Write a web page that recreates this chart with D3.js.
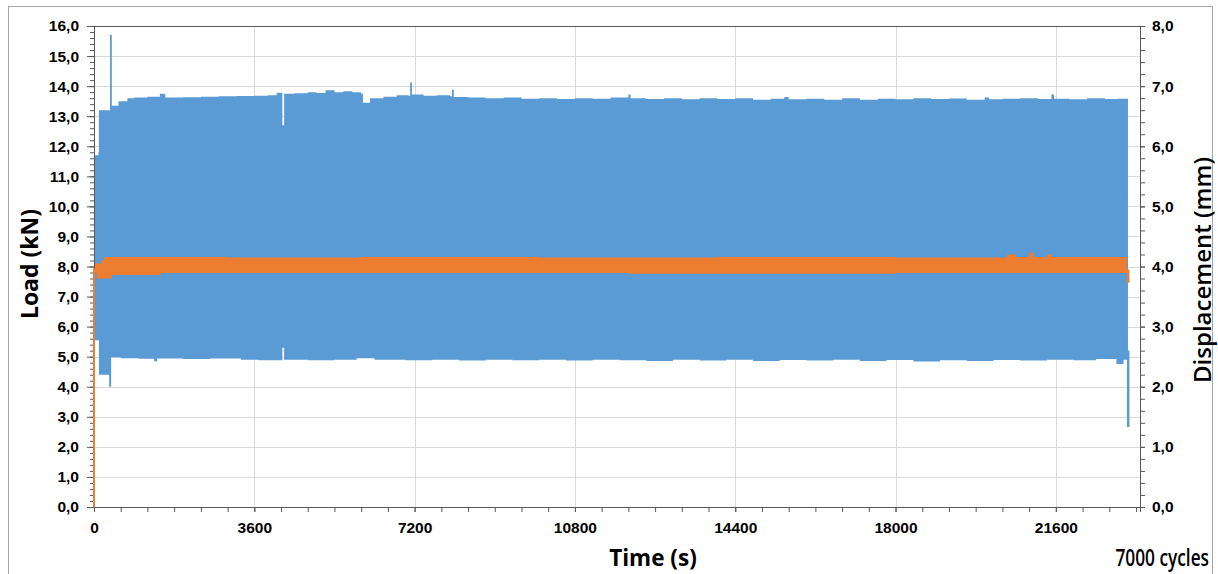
<!DOCTYPE html>
<html>
<head>
<meta charset="utf-8">
<script src="https://cdn.jsdelivr.net/npm/d3@7"></script>
<style>
  body { margin: 0; background: #fff; }
  svg { display: block; }
  .tick text { font-family: "Liberation Sans Narrow", "Arial Narrow", "Liberation Sans", sans-serif; font-weight: bold; font-size: 15.5px; fill: #000; }
</style>
</head>
<body>
<div id="chart"></div>
<script>
// time axis (s)
const timeMax = 23490;
const timeTicks = [0, 3600, 7200, 10800, 14400, 18000, 21600];
const loadTicks = d3.range(0, 17, 1);
const dispTicks = d3.range(0, 9, 1);

// load envelope, blue series: [time (s), kN]
const loadMax = [
  [0, 10.3], [20, 11.7], [100, 11.8], [110, 13.2], [360, 15.7], [400, 13.35], [550, 13.5],
  [750, 13.6], [900, 13.62], [1200, 13.65], [1480, 13.75], [1600, 13.62], [2000, 13.63],
  [2400, 13.65], [2800, 13.66], [3200, 13.67], [3600, 13.68], [3900, 13.7], [4100, 13.78],
  [4230, 12.7], [4270, 13.75], [4500, 13.76], [4800, 13.8], [5000, 13.77], [5200, 13.86],
  [5400, 13.8], [5600, 13.83], [5800, 13.8], [6000, 13.75], [6040, 13.45], [6200, 13.6],
  [6500, 13.65], [6800, 13.7], [7060, 13.68], [7100, 14.12], [7140, 13.72], [7400, 13.68],
  [7700, 13.7], [8000, 13.66], [8040, 13.88], [8080, 13.64], [8400, 13.62], [8800, 13.6],
  [9200, 13.62], [9600, 13.58], [10000, 13.6], [10400, 13.57], [10800, 13.6], [11200, 13.58],
  [11600, 13.62], [12000, 13.72], [12050, 13.6], [12400, 13.57], [12800, 13.6], [13200, 13.56],
  [13600, 13.6], [14000, 13.57], [14400, 13.6], [14800, 13.55], [15200, 13.58], [15500, 13.64],
  [15600, 13.56], [16000, 13.58], [16400, 13.55], [16800, 13.6], [17200, 13.55], [17600, 13.58],
  [18000, 13.56], [18400, 13.6], [18800, 13.57], [19200, 13.59], [19600, 13.55], [20000, 13.62],
  [20100, 13.56], [20400, 13.58], [20800, 13.6], [21200, 13.57], [21500, 13.72], [21560, 13.58],
  [21900, 13.56], [22300, 13.6], [22700, 13.57], [23000, 13.58], [23220, 13.55]
];
const loadMin = [
  [0, 5.55], [110, 4.4], [340, 4.0], [385, 4.98], [600, 4.95], [1000, 4.93], [1350, 4.85],
  [1420, 4.94], [2000, 4.92], [2600, 4.94], [3300, 4.9], [3700, 4.88], [4230, 5.3], [4270, 4.9],
  [4800, 4.88], [5400, 4.9], [5900, 4.95], [6300, 4.9], [7000, 4.88], [7600, 4.9], [8200, 4.87],
  [8800, 4.9], [9400, 4.88], [10000, 4.9], [10600, 4.87], [11200, 4.9], [11800, 4.88],
  [12400, 4.86], [13000, 4.9], [13600, 4.87], [14200, 4.9], [14800, 4.86], [15400, 4.89],
  [16000, 4.87], [16600, 4.9], [17200, 4.86], [17800, 4.89], [18400, 4.84], [19000, 4.88],
  [19600, 4.86], [20200, 4.89], [20800, 4.87], [21400, 4.9], [22000, 4.88], [22500, 4.92],
  [22960, 4.76], [23120, 4.9], [23220, 4.9]
];
const loadTail = [[23225, 5.2], [23225, 2.66]];

// displacement envelope, orange series: [time (s), mm]
const dispMax = [
  [0, 3.97], [100, 4.0], [160, 4.1], [230, 4.16], [1000, 4.16], [3000, 4.15], [6000, 4.16],
  [10000, 4.15], [14000, 4.16], [18000, 4.15], [20500, 4.2], [20700, 4.16], [21000, 4.23],
  [21100, 4.16], [21400, 4.2], [21500, 4.16], [23200, 4.16]
];
const dispMin = [
  [0, 3.89], [60, 3.8], [400, 3.86], [1500, 3.89], [6000, 3.89], [12000, 3.88], [18000, 3.89],
  [23200, 3.89]
];
const dispRamp = [[0, 0], [0, 3.97]];
const dispTail = [[23225, 3.95], [23225, 3.73]];

const width = 1218, height = 574;
const mLeft = 94, mRight = 1140, mTop = 26, mBottom = 507;
const blue = "#5b9bd5", orange = "#ed7d31", grid = "#d9d9d9", axisCol = "#595959";

const svg = d3.select("#chart").append("svg")
  .attr("width", width).attr("height", height);

svg.append("rect")
  .attr("x", 8.5).attr("y", 6.5).attr("width", 1204).attr("height", 600)
  .attr("fill", "none").attr("stroke", "#a6a6a6");

const x = d3.scaleLinear().domain([0, timeMax]).range([mLeft, mRight]);
const yL = d3.scaleLinear().domain([0, 16]).range([mBottom, mTop]);
const yR = d3.scaleLinear().domain([0, 8]).range([mBottom, mTop]);
const fmt = v => d3.format(".1f")(v).replace(".", ",");

// gridlines
svg.append("g").selectAll("line.h")
  .data(loadTicks.slice(1))
  .enter().append("line")
  .attr("x1", mLeft).attr("x2", mRight)
  .attr("y1", d => Math.round(yL(d)) + 0.5).attr("y2", d => Math.round(yL(d)) + 0.5)
  .attr("stroke", grid);
svg.append("g").selectAll("line.v")
  .data(timeTicks.slice(1))
  .enter().append("line")
  .attr("y1", mTop).attr("y2", mBottom)
  .attr("x1", d => Math.round(x(d)) + 0.5).attr("x2", d => Math.round(x(d)) + 0.5)
  .attr("stroke", grid);

// band halves meet in the middle so the fill has no seam
function halfBand(points, mid, yScale, color) {
  const area = d3.area()
    .curve(d3.curveStepAfter)
    .x(d => x(d[0]))
    .y0(yScale(mid))
    .y1(d => yScale(d[1]));
  svg.append("path").datum(points).attr("d", area).attr("fill", color);
}

function segment(points, yScale, color, w) {
  const line = d3.line().x(d => x(d[0])).y(d => yScale(d[1]));
  svg.append("path").datum(points).attr("d", line)
    .attr("fill", "none").attr("stroke", color).attr("stroke-width", w);
}

halfBand(loadMax, 7.9, yL, blue);
halfBand(loadMin, 8.1, yL, blue);
segment(loadTail, yL, blue, 2.5);

halfBand(dispMax, 3.99, yR, orange);
halfBand(dispMin, 4.05, yR, orange);
segment(dispTail, yR, orange, 2.5);

// axes
function styleAxis(g) {
  g.select(".domain").attr("stroke", axisCol);
  g.selectAll(".tick line").attr("stroke", axisCol);
}

svg.append("g").attr("transform", `translate(${mLeft},0)`)
  .call(d3.axisLeft(yL).tickValues(d3.range(0, 16.01, 0.2)).tickSize(4).tickFormat(""))
  .call(styleAxis);
svg.append("g").attr("transform", `translate(${mLeft},0)`)
  .call(d3.axisLeft(yL).tickValues(loadTicks).tickSize(7).tickPadding(8).tickFormat(fmt))
  .call(styleAxis);

svg.append("g").attr("transform", `translate(${mRight},0)`)
  .call(d3.axisRight(yR).tickValues(d3.range(0, 8.01, 0.2)).tickSize(5).tickFormat(""))
  .call(styleAxis);
svg.append("g").attr("transform", `translate(${mRight},0)`)
  .call(d3.axisRight(yR).tickValues(dispTicks).tickSize(5).tickPadding(7).tickFormat(fmt))
  .call(styleAxis);

svg.append("g").attr("transform", `translate(0,${mBottom})`)
  .call(d3.axisBottom(x).tickValues(d3.range(0, timeMax, 600)).tickSize(5).tickFormat(""))
  .call(styleAxis);
svg.append("g").attr("transform", `translate(0,${mBottom})`)
  .call(d3.axisBottom(x).tickValues(timeTicks).tickSize(5).tickPadding(10).tickFormat(d3.format("d")))
  .call(styleAxis);

svg.append("line")
  .attr("x1", mLeft).attr("x2", mRight).attr("y1", mTop + 0.5).attr("y2", mTop + 0.5)
  .attr("stroke", axisCol);

segment(dispRamp, yR, orange, 2);

// titles
const titleFont = "'Open Sans', 'Noto Sans', sans-serif";
svg.append("text")
  .attr("transform", "translate(38,264) rotate(-90)")
  .attr("text-anchor", "middle")
  .style("font-family", titleFont).style("font-weight", 700).style("font-size", "23px")
  .text("Load (kN)");
svg.append("text")
  .attr("transform", "translate(1211,270) rotate(-90)")
  .attr("text-anchor", "middle")
  .style("font-family", titleFont).style("font-weight", 600).style("font-size", "24px")
  .text("Displacement (mm)");
svg.append("text")
  .attr("x", 653).attr("y", 566)
  .attr("text-anchor", "middle")
  .style("font-family", titleFont).style("font-weight", 700).style("font-size", "22.5px")
  .text("Time (s)");
svg.append("text")
  .attr("transform", "translate(1209,566) scale(0.72,1)")
  .attr("text-anchor", "end")
  .style("font-family", titleFont).style("font-weight", 600)
  .style("font-size", "24px")
  .text("7000 cycles");
</script>
</body>
</html>
